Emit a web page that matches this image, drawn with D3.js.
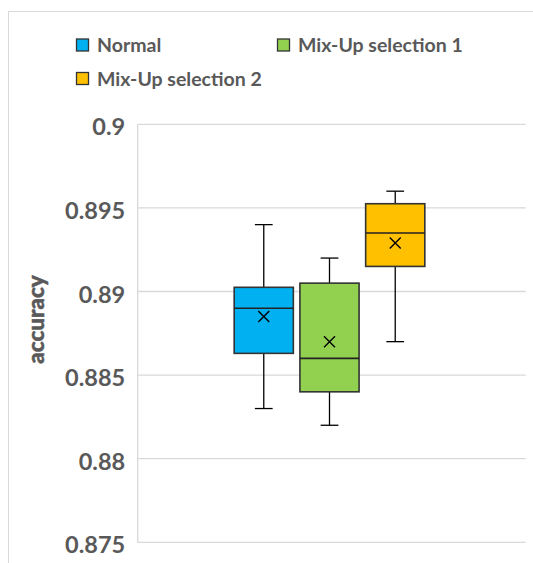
<!DOCTYPE html>
<html>
<head>
<meta charset="utf-8">
<script src="https://cdn.jsdelivr.net/npm/d3@7"></script>
<style>
  html, body { margin: 0; padding: 0; background: #fff; }
  svg { display: block; }
  text { font-family: Lato, "Open Sans", sans-serif; font-weight: bold; fill: #595959; }
</style>
</head>
<body>
<svg id="chart" width="533" height="563"></svg>
<script>
const series = ["Normal", "Mix-Up selection 1", "Mix-Up selection 2"];
const colors = ["#00B0F0", "#92D050", "#FFC000"];
const whiskerLow = [0.883, 0.882, 0.887];
const q1Values = [0.8863, 0.884, 0.8915];
const medians = [0.889, 0.886, 0.8935];
const q3Values = [0.89025, 0.8905, 0.89525];
const whiskerHigh = [0.894, 0.892, 0.896];
const means = [0.8885, 0.887, 0.8929];
const yTicks = [0.875, 0.88, 0.885, 0.89, 0.895, 0.9];
const yTickLabels = ["0.875", "0.88", "0.885", "0.89", "0.895", "0.9"];
const yTitle = "accuracy";

const data = series.map((s, i) => ({
  name: s, color: colors[i], lo: whiskerLow[i], q1: q1Values[i],
  med: medians[i], q3: q3Values[i], hi: whiskerHigh[i], mean: means[i]
}));

const svg = d3.select("#chart");
const plot = { left: 137.7, right: 525.7, top: 124.3, bottom: 542.3 };

// chart area border (cropped)
svg.append("rect").attr("x", 8.5).attr("y", 11.5).attr("width", 600).attr("height", 600)
  .attr("fill", "none").attr("stroke", "#d9d9d9").attr("stroke-width", 1);

const y = d3.scaleLinear().domain([0.875, 0.9]).range([plot.bottom, plot.top]);
const xBand = d3.scaleBand().domain(series).range([230.9, 428.1]).paddingInner(0.1).paddingOuter(0.05);

// gridlines
svg.append("g").selectAll("line").data(yTicks).join("line")
  .attr("x1", plot.left).attr("x2", plot.right)
  .attr("y1", d => y(d)).attr("y2", d => y(d))
  .attr("stroke", "#d9d9d9").attr("stroke-width", 1.3);
// left axis line
svg.append("line").attr("x1", plot.left).attr("x2", plot.left)
  .attr("y1", plot.top).attr("y2", plot.bottom)
  .attr("stroke", "#d9d9d9").attr("stroke-width", 1.3);

// tick labels via axis
const axis = d3.axisLeft(y).tickValues(yTicks).tickFormat((d, i) => yTickLabels[i]).tickSize(0).tickPadding(12.5);
const ax = svg.append("g").attr("transform", `translate(${plot.left},0)`).call(axis);
ax.select(".domain").remove();
ax.selectAll("text").style("font-size", "23.5px").style("font-family", "Lato, 'Open Sans', sans-serif")
  .style("font-weight", "bold").attr("fill", "#595959").attr("dy", "0.45em");

// y title
svg.append("text").attr("transform", `translate(44,319.5) rotate(-90)`)
  .attr("text-anchor", "middle").style("font-size", "22.5px").style("font-weight", "900")
  .attr("stroke", "#595959").attr("stroke-width", 0.5).text(yTitle);

// boxes
const g = svg.append("g").selectAll("g").data(data).join("g");
const cx = d => xBand(d.name) + xBand.bandwidth() / 2;
const capW = xBand.bandwidth() * 0.3;
// whiskers
g.append("line").attr("x1", cx).attr("x2", cx).attr("y1", d => y(d.hi)).attr("y2", d => y(d.q3))
  .attr("stroke", "#000").attr("stroke-width", 1.3);
g.append("line").attr("x1", cx).attr("x2", cx).attr("y1", d => y(d.q1)).attr("y2", d => y(d.lo))
  .attr("stroke", "#000").attr("stroke-width", 1.3);
g.append("line").attr("x1", d => cx(d) - capW / 2).attr("x2", d => cx(d) + capW / 2)
  .attr("y1", d => y(d.hi)).attr("y2", d => y(d.hi)).attr("stroke", "#000").attr("stroke-width", 1.3);
g.append("line").attr("x1", d => cx(d) - capW / 2).attr("x2", d => cx(d) + capW / 2)
  .attr("y1", d => y(d.lo)).attr("y2", d => y(d.lo)).attr("stroke", "#000").attr("stroke-width", 1.3);
// box
g.append("rect").attr("x", d => xBand(d.name)).attr("width", xBand.bandwidth())
  .attr("y", d => y(d.q3)).attr("height", d => y(d.q1) - y(d.q3))
  .attr("fill", d => d.color).attr("stroke", "#333").attr("stroke-width", 1.6);
// median
g.append("line").attr("x1", d => xBand(d.name)).attr("x2", d => xBand(d.name) + xBand.bandwidth())
  .attr("y1", d => y(d.med)).attr("y2", d => y(d.med)).attr("stroke", "#222").attr("stroke-width", 1.6);
// mean X
const m = 5.5;
g.append("path").attr("d", d => `M${cx(d) - m},${y(d.mean) - m}L${cx(d) + m},${y(d.mean) + m}M${cx(d) - m},${y(d.mean) + m}L${cx(d) + m},${y(d.mean) - m}`)
  .attr("stroke", "#000").attr("stroke-width", 1.4).attr("fill", "none");

// legend
const legendPos = [[76.5, 39], [277.5, 39], [76.5, 72.5]];
const lg = svg.append("g").selectAll("g").data(data).join("g")
  .attr("transform", (d, i) => `translate(${legendPos[i][0]},${legendPos[i][1]})`);
lg.append("rect").attr("width", 12).attr("height", 12).attr("fill", d => d.color)
  .attr("stroke", "#333").attr("stroke-width", 1.3);
lg.append("text").attr("x", 20.5).attr("y", 13).style("font-size", "19.5px").text(d => d.name);
</script>
</body>
</html>
